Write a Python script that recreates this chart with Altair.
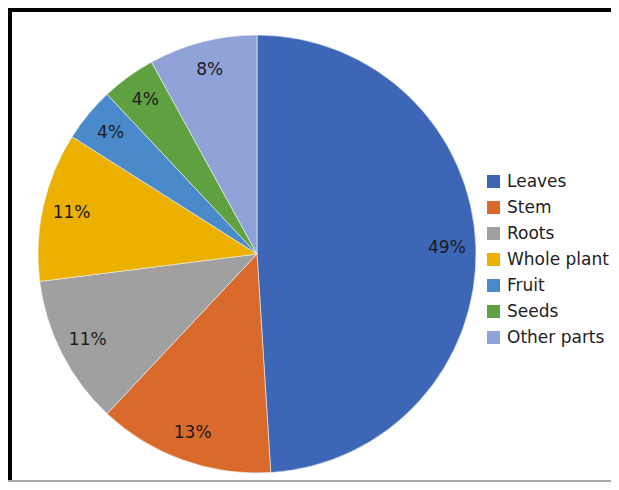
import altair as alt
import pandas as pd

categories = ["Leaves", "Stem", "Roots", "Whole plant", "Fruit", "Seeds", "Other parts"]
values = [49, 13, 11, 11, 4, 4, 8]
labels = ["49%", "13%", "11%", "11%", "4%", "4%", "8%"]
colors = ["#3D66B6", "#DA6A2C", "#A0A0A0", "#EBB000", "#4A8ACB", "#5FA040", "#8FA3D8"]

df = pd.DataFrame({
    "category": categories,
    "value": values,
    "label": labels,
    "idx": list(range(len(categories))),
})

W, H = 603, 474
CX, CY, R = 249, 246, 219

base = alt.Chart(df).encode(
    theta=alt.Theta("value:Q", stack=True),
    order=alt.Order("idx:Q"),
)

pie = base.mark_arc(stroke="#f4f4f4", strokeWidth=0.6).encode(
    x=alt.value(CX),
    y=alt.value(CY),
    radius=alt.value(R),
    color=alt.Color(
        "category:N",
        scale=alt.Scale(domain=categories, range=colors),
        legend=alt.Legend(
            title=None,
            orient="none",
            legendX=477,
            legendY=165,
            symbolType="square",
            symbolSize=169,
            symbolStrokeWidth=0,
            labelFont="DejaVu Sans",
            labelFontSize=17,
            labelColor="#222222",
            labelOffset=5,
            rowPadding=8,
            padding=0,
        ),
    ),
)

text = base.mark_text(font="DejaVu Sans", fontSize=17, color="#1a1a1a").encode(
    x=alt.value(CX),
    y=alt.value(CY),
    radius=alt.value(190),
    text="label:N",
)

frame_df = pd.DataFrame({"k": [0]})
top = alt.Chart(frame_df).mark_rule(color="black", strokeWidth=4).encode(
    x=alt.value(0), x2=alt.value(W), y=alt.value(2)
)
left = alt.Chart(frame_df).mark_rule(color="black", strokeWidth=4).encode(
    x=alt.value(2), y=alt.value(0), y2=alt.value(H)
)
bottom = alt.Chart(frame_df).mark_rule(color="#A8A8A8", strokeWidth=2).encode(
    x=alt.value(0), x2=alt.value(W), y=alt.value(H - 1)
)

chart = alt.layer(pie, text, top, left, bottom).properties(
    width=W,
    height=H,
    autosize=alt.AutoSizeParams(type="none"),
    padding=0,
).configure_view(stroke=None)

chart.save("out.html", embed_options={"renderer": "svg", "actions": False})
